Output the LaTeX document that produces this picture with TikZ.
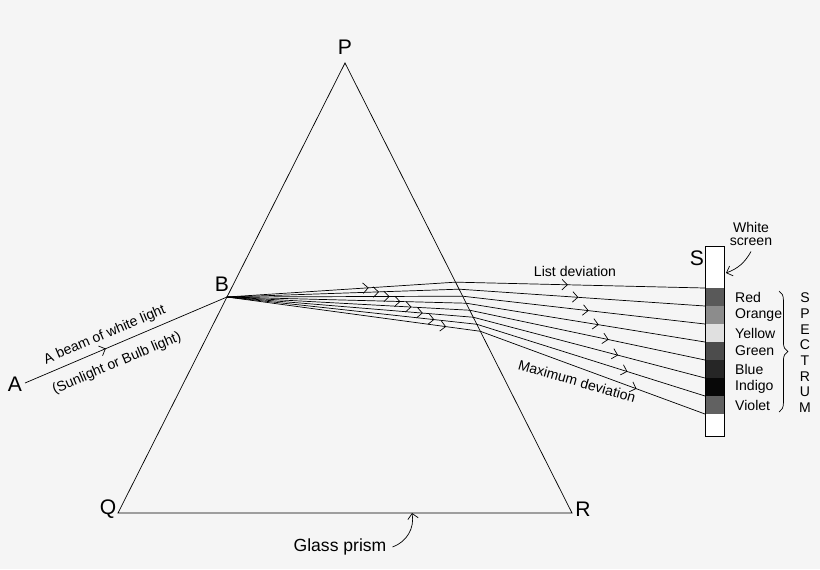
\documentclass[tikz,border=0pt]{standalone}
\usepackage{fontspec}
\setmainfont{Liberation Sans}
\usetikzlibrary{arrows.meta, decorations.markings, decorations.pathreplacing, calc}
\begin{document}
\begin{tikzpicture}[x=0.02cm, y=-0.02cm, font=\fontsize{8}{9}\selectfont,
    ray/.style={postaction={decorate}, decoration={markings, mark=at position #1 with {\arrow{Straight Barb[length=3pt]}}}},
    corner/.style={font=\fontsize{12}{13}\selectfont}]
  \useasboundingbox[fill=white!96!black] (0,0) rectangle (820,569);
  % prism
  \coordinate (P) at (345,63);
  \coordinate (Q) at (118,513);
  \coordinate (R) at (572,513);
  \coordinate (B) at ($(P)!0.52!(Q)$);
  \coordinate (A) at (25,383);
  \draw (P) -- (Q) -- (R) -- cycle;
  \node[corner] at (345,47) {P};
  \node[corner] at (108,509) {Q};
  \node[corner] at (583,509) {R};
  \node[corner] at (222,284) {B};
  \node[corner] at (15,384) {A};
  % incident beam
  \draw[ray=0.4] (A) -- (B)
    node[pos=0.42, above, sloped] {A beam of white light}
    node[pos=0.42, below=3pt, sloped] {(Sunlight or Bulb light)};
  % screen
  \draw[fill=white] (705,246) rectangle (724,436);
  \foreach \g [count=\i from 0] in {65,45,12,70,85,97,62}
    \fill[black!\g!white] (705,288+18*\i) rectangle (724,306+18*\i);
  \draw (705,246) rectangle (724,436);
  \node[corner] at (697,258) {S};
  \node[align=center] (scr) at (751,234) {White\\[-2pt]screen};
  \draw[-{Straight Barb[length=3pt]}] (scr.south) to[bend left=20] (726,273);
  % dispersed rays
  \foreach \i in {0,...,7} {
    \coordinate (E\i) at ($(P)!0.487+0.0156*\i!(R)$);
    \coordinate (S\i) at (705,288+18*\i);
    \pgfmathsetmacro{\m}{0.62+0.035*\i}
    \draw[ray=\m] (B) -- (E\i);
    \pgfmathsetmacro{\n}{0.45+0.035*\i}
    \draw[ray=\n] (E\i) -- (S\i);
  }
  \node at (575,271) {List deviation};
  \node[rotate=-16] at (577,381) {Maximum deviation};
  \foreach \c [count=\i from 0] in {Red,Orange,Yellow,Green,Blue,Indigo,Violet}
    \node[anchor=west] at (729,297+18*\i) {\c};
  \draw[decorate, decoration={brace, amplitude=5pt}] (779,291) -- (779,412);
  \foreach \l [count=\i from 0] in {S,P,E,C,T,R,U,M}
    \node at (805,298+15.7*\i) {\l};
  % label of prism
  \node[font=\fontsize{10}{11}\selectfont] (gp) at (340,547) {Glass prism};
  \draw[-{Straight Barb[length=3pt]}] (gp.east) to[bend right=40] (412,513);
\end{tikzpicture}
\end{document}
